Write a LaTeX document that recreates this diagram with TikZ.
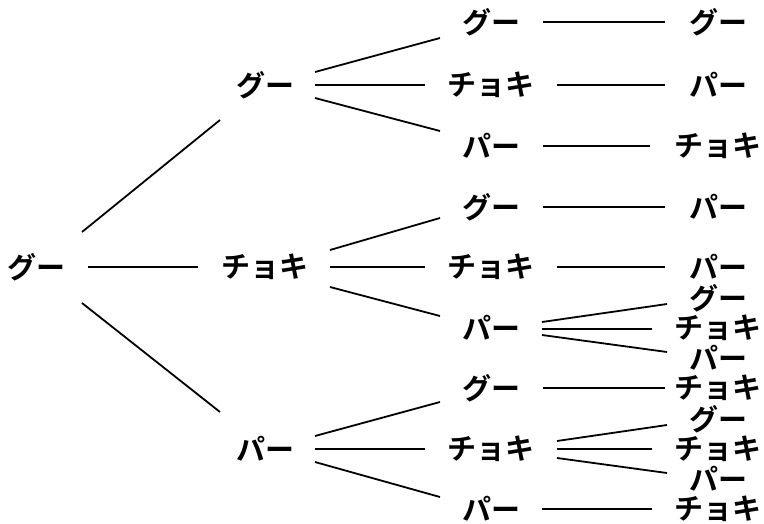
\documentclass[tikz,border=0pt]{standalone}
\usepackage{fontspec}
\setmainfont{Noto Sans CJK JP}[BoldFont={Noto Sans CJK JP Bold}]
\newcommand{\conn}[6]{\draw ([shift={(#2,#3)}]#1.center) -- ([shift={(#5,#6)}]#4.center);}
\begin{document}
\begin{tikzpicture}[x=1pt,y=-1pt,
  lbl/.style={inner sep=0pt,font=\fontsize{29}{29}\selectfont\bfseries},
  every path/.style={line width=1.8pt}]
\useasboundingbox (0,0) rectangle (764,523);
\node[lbl] (r) at (37,267) {グー};
\node[lbl] (b1) at (265,85) {グー};
\node[lbl] (b2) at (265,267) {チョキ};
\node[lbl] (b3) at (265,449) {パー};
\node[lbl] (c1) at (491,22) {グー};
\node[lbl] (c2) at (491,85) {チョキ};
\node[lbl] (c3) at (491,146) {パー};
\node[lbl] (c4) at (491,207) {グー};
\node[lbl] (c5) at (491,267) {チョキ};
\node[lbl] (c6) at (491,328) {パー};
\node[lbl] (c7) at (491,388) {グー};
\node[lbl] (c8) at (491,449) {チョキ};
\node[lbl] (c9) at (491,509) {パー};
\node[lbl] (d1) at (718,22) {グー};
\node[lbl] (d2) at (718,85) {パー};
\node[lbl] (d3) at (718,146) {チョキ};
\node[lbl] (d4) at (718,207) {パー};
\node[lbl] (d5) at (718,267) {パー};
\node[lbl] (d6) at (718,298) {グー};
\node[lbl] (d7) at (718,328) {チョキ};
\node[lbl] (d8) at (718,358) {パー};
\node[lbl] (d9) at (718,388) {チョキ};
\node[lbl] (d10) at (718,419) {グー};
\node[lbl] (d11) at (718,449) {チョキ};
\node[lbl] (d12) at (718,479) {パー};
\node[lbl] (d13) at (718,509) {チョキ};
\conn{r}{45}{-35}{b1}{-45}{35}
\conn{r}{51}{0}{b2}{-67}{0}
\conn{r}{45}{36}{b3}{-45}{-37}
\conn{b1}{50}{-13}{c1}{-51}{16}
\conn{b1}{50}{0}{c2}{-66}{0}
\conn{b1}{50}{13}{c3}{-51}{-15}
\conn{b2}{65}{-17}{c4}{-51}{11}
\conn{b2}{65}{0}{c5}{-66}{0}
\conn{b2}{65}{20}{c6}{-51}{-12}
\conn{b3}{50}{-13}{c7}{-51}{14}
\conn{b3}{50}{0}{c8}{-66}{0}
\conn{b3}{50}{13}{c9}{-51}{-12}
\conn{c1}{52}{0}{d1}{-53}{0}
\conn{c2}{66}{0}{d2}{-53}{0}
\conn{c3}{52}{0}{d3}{-68}{0}
\conn{c4}{52}{0}{d4}{-53}{0}
\conn{c5}{66}{0}{d5}{-53}{0}
\conn{c6}{51}{-6}{d6}{-51}{6}
\conn{c6}{51}{1}{d7}{-66}{1}
\conn{c6}{51}{7}{d8}{-51}{-6}
\conn{c7}{52}{0}{d9}{-53}{0}
\conn{c8}{66}{-8}{d10}{-51}{6}
\conn{c8}{66}{0}{d11}{-66}{0}
\conn{c8}{66}{9}{d12}{-51}{-6}
\conn{c9}{51}{0}{d13}{-66}{0}
\end{tikzpicture}
\end{document}
